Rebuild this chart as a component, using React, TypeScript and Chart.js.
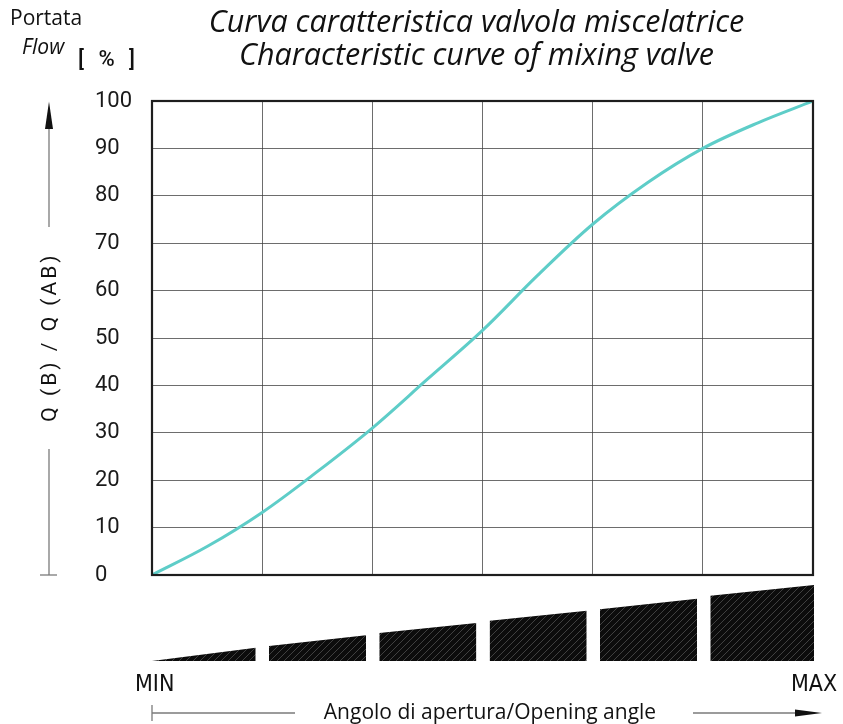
import React, { useEffect, useRef } from "react";
import { Chart, registerables } from "chart.js";

Chart.register(...registerables);

// Opening angle (grid columns 0..6, MIN -> MAX) and flow Q(B)/Q(AB) in %
const ANGLE = [0, 0.5, 1, 1.5, 2, 2.5, 3, 3.5, 4, 4.5, 5, 5.5, 6];
const FLOW = [0, 6.0, 13.2, 21.8, 31, 41.3, 51.6, 63.2, 74, 82.8, 90, 95.4, 100];

const Y_TICKS = [0, 10, 20, 30, 40, 50, 60, 70, 80, 90, 100];

// Opening-angle indicator wedges (angle start/end, relative opening at start/end)
const WEDGE_START = [0, 1.06, 2.06, 3.06, 4.06, 5.06];
const WEDGE_END = [0.94, 1.94, 2.94, 3.94, 4.94, 6.0];
const WEDGE_TOP_START = [0, 0.198, 0.37, 0.53, 0.68, 0.86];
const WEDGE_TOP_END = [0.175, 0.34, 0.5, 0.66, 0.82, 1.0];

const TITLE_1 = "Curva caratteristica valvola miscelatrice";
const TITLE_2 = "Characteristic curve of mixing valve";
const Y_LABEL = "Q (B) / Q (AB)";
const X_LABEL = "Angolo di apertura/Opening angle";

const W = 843;
const H = 724;

function makeHatch(): CanvasPattern | string {
  const c = document.createElement("canvas");
  c.width = 7;
  c.height = 7;
  const g = c.getContext("2d");
  if (!g) return "#111";
  g.fillStyle = "#0c0c0c";
  g.fillRect(0, 0, 7, 7);
  g.strokeStyle = "rgba(70,70,70,0.9)";
  g.lineWidth = 1;
  g.beginPath();
  g.moveTo(-1, 8);
  g.lineTo(8, -1);
  g.moveTo(-1, 1);
  g.lineTo(1, -1);
  g.moveTo(6, 8);
  g.lineTo(8, 6);
  g.stroke();
  const p = g.createPattern(c, "repeat");
  return p || "#111";
}

const framePlugin = {
  id: "frame",
  afterDatasetsDraw(chart: any) {
    const { ctx, chartArea } = chart;
    ctx.save();
    ctx.strokeStyle = "#1e1e1e";
    ctx.lineWidth = 2.2;
    ctx.strokeRect(
      chartArea.left,
      chartArea.top,
      chartArea.right - chartArea.left,
      chartArea.bottom - chartArea.top
    );
    ctx.restore();
  },
};

export default function App() {
  const mainRef = useRef<HTMLCanvasElement>(null);
  const wedgeRef = useRef<HTMLCanvasElement>(null);

  useEffect(() => {
    if (!mainRef.current || !wedgeRef.current) return;
    const main = new Chart(mainRef.current, {
      type: "line",
      data: {
        datasets: [
          {
            data: ANGLE.map((a, i) => ({ x: a, y: FLOW[i] })),
            borderColor: "#5ecdc8",
            borderWidth: 3,
            pointRadius: 0,
            tension: 0.35,
            fill: false,
          },
        ],
      },
      options: {
        responsive: false,
        animation: false,
        layout: { padding: { left: 95, top: 101, right: 30, bottom: 149 } },
        plugins: { legend: { display: false }, tooltip: { enabled: false }, title: { display: false } },
        scales: {
          x: {
            type: "linear",
            min: 0,
            max: 6,
            ticks: { display: false, stepSize: 1 },
            grid: { color: "rgba(60,60,60,0.75)", lineWidth: 1, drawTicks: false },
            border: { display: false },
            afterFit: (s: any) => {
              s.height = 0;
            },
          },
          y: {
            type: "linear",
            min: 0,
            max: 100,
            afterBuildTicks: (s: any) => {
              s.ticks = Y_TICKS.map((v) => ({ value: v }));
            },
            ticks: {
              crossAlign: "far",
              padding: 0,
              color: "#1a1a1a",
              font: { family: "Roboto", size: 22 },
            },
            grid: { color: "rgba(60,60,60,0.75)", lineWidth: 1, drawTicks: false },
            border: { display: false },
            afterFit: (s: any) => {
              s.width = 57;
            },
          },
        },
      },
      plugins: [framePlugin],
    } as any);

    const hatch = makeHatch();
    const wedges = new Chart(wedgeRef.current, {
      type: "line",
      data: {
        datasets: WEDGE_START.map((s, i) => ({
          data: [
            { x: s, y: WEDGE_TOP_START[i] },
            { x: WEDGE_END[i], y: WEDGE_TOP_END[i] },
          ],
          borderWidth: 0,
          borderColor: "rgba(0,0,0,0)",
          backgroundColor: hatch,
          pointRadius: 0,
          fill: "origin",
          tension: 0,
        })),
      },
      options: {
        responsive: false,
        animation: false,
        layout: { padding: { left: 152, top: 585, right: 29, bottom: 63 } },
        plugins: { legend: { display: false }, tooltip: { enabled: false } },
        scales: {
          x: { type: "linear", min: 0, max: 6, display: false },
          y: { type: "linear", min: 0, max: 1, display: false },
        },
      },
    } as any);

    return () => {
      main.destroy();
      wedges.destroy();
    };
  }, []);

  const txt: React.CSSProperties = { position: "absolute", whiteSpace: "nowrap", color: "#111", lineHeight: 1 };

  return (
    <div style={{ position: "absolute", left: 0, top: 0, width: W, height: H, background: "#fff", overflow: "hidden" }}>
      <canvas ref={mainRef} width={W} height={H} style={{ position: "absolute", left: 0, top: 0, width: W, height: H }} />
      <canvas ref={wedgeRef} width={W} height={H} style={{ position: "absolute", left: 0, top: 0, width: W, height: H }} />

      <svg width={W} height={H} style={{ position: "absolute", left: 0, top: 0 }}>
        <g stroke="#7a7a7a" strokeWidth={1.3}>
          <line x1={49} y1={126} x2={49} y2={227} />
          <line x1={49} y1={449} x2={49} y2={575} />
          <line x1={40} y1={575} x2={57} y2={575} />
          <line x1={152} y1={705} x2={152} y2={721} />
          <line x1={152} y1={713} x2={295} y2={713} />
          <line x1={693} y1={713} x2={797} y2={713} />
        </g>
        <polygon points="49,101.5 45,129 53,129" fill="#111" />
        <polygon points="822,713 795,709.5 795,716.5" fill="#111" />
      </svg>

      <div style={{ ...txt, left: 0, width: 953, top: 5, textAlign: "center", fontFamily: "'Open Sans'", fontStyle: "italic", fontSize: 30.5 }}>
        {TITLE_1}
      </div>
      <div style={{ ...txt, left: 0, width: 953, top: 38, textAlign: "center", fontFamily: "'Open Sans'", fontStyle: "italic", fontSize: 30.5 }}>
        {TITLE_2}
      </div>

      <div style={{ ...txt, left: 10, top: 7, fontFamily: "'Open Sans'", fontSize: 21 }}>Portata</div>
      <div style={{ ...txt, left: 22, top: 36, fontFamily: "'Open Sans'", fontStyle: "italic", fontSize: 21 }}>Flow</div>
      <div style={{ ...txt, left: 78, top: 48, fontFamily: "Roboto", fontWeight: 500, fontSize: 22, letterSpacing: 4.5 }}>[ % ]</div>

      <div
        style={{
          ...txt,
          left: 49 - 110,
          top: 337 - 12,
          width: 220,
          height: 24,
          lineHeight: "24px",
          textAlign: "center",
          fontFamily: "Roboto",
          fontSize: 21,
          letterSpacing: 3,
          transform: "rotate(-90deg)",
          transformOrigin: "50% 50%",
        }}
      >
        {Y_LABEL}
      </div>

      <div style={{ ...txt, left: 135, top: 672, fontFamily: "'Liberation Sans Narrow', 'DejaVu Sans Condensed', sans-serif", fontSize: 23 }}>MIN</div>
      <div style={{ ...txt, left: 791, top: 672, fontFamily: "'Liberation Sans Narrow', 'DejaVu Sans Condensed', sans-serif", fontSize: 23 }}>MAX</div>
      <div style={{ ...txt, left: 0, width: 980, top: 701, textAlign: "center", fontFamily: "'Open Sans'", fontSize: 21 }}>{X_LABEL}</div>
    </div>
  );
}
